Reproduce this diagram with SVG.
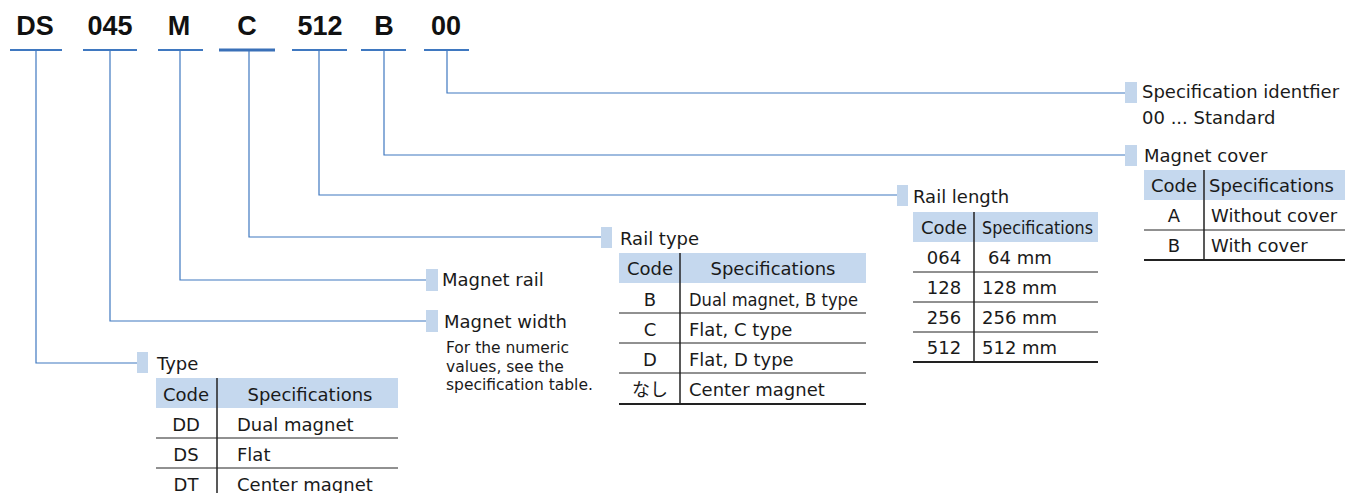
<svg xmlns="http://www.w3.org/2000/svg" width="1362" height="493" viewBox="0 0 1362 493">
<style>
.code{font-family:"Liberation Sans",Arial,sans-serif;font-weight:bold;font-size:27px;fill:#111;text-anchor:middle}
.t{font-family:"DejaVu Sans","Noto Sans CJK JP",sans-serif;font-size:18px;fill:#1a1a1a}
.s{font-family:"DejaVu Sans",sans-serif;font-size:15.5px;fill:#1a1a1a}
.m{text-anchor:middle}
.ul{stroke:#3f78c0;stroke-width:2.2;fill:none}
.con{stroke:#3f78c0;stroke-width:1.2;fill:none}
.mk{fill:#c3d6ec}
.hd{fill:#c5d8ee}
.rl{stroke:#222;stroke-width:1;fill:none}
.bl{stroke:#222;stroke-width:2;fill:none}
.dv{stroke:#222;stroke-width:1.5;fill:none}
</style>
<g id="code">
<text class="code" x="35" y="35">DS</text>
<text class="code" x="110" y="35">045</text>
<text class="code" x="179" y="35">M</text>
<text class="code" x="247" y="35">C</text>
<text class="code" x="320" y="35">512</text>
<text class="code" x="384" y="35">B</text>
<text class="code" x="446" y="35">00</text>
<path class="ul" d="M10 50H62M83 50H137M158 50H203M361 50H406M424 50H469M292 50H347"/>
<path class="ul" d="M219 50H275" style="stroke-width:2.8;stroke:#3a70b8"/>
</g>
<g id="connectors">
<path class="con" d="M36 51V363H137"/>
<path class="con" d="M110 51V321H426"/>
<path class="con" d="M180 51V280H426"/>
<path class="con" d="M249 51V237H601"/>
<path class="con" d="M319 51V195H897"/>
<path class="con" d="M384 51V155H1125"/>
<path class="con" d="M447 51V93H1125"/>
</g>
<g id="spec-identifier">
<rect class="mk" x="1125" y="82" width="12" height="21"/>
<text class="t" x="1142" y="98">Specification identfier</text>
<text class="t" x="1142" y="124">00 ... Standard</text>
</g>
<g id="magnet-cover">
<rect class="mk" x="1125" y="145" width="12" height="21"/>
<text class="t" x="1144" y="162">Magnet cover</text>
<rect class="hd" x="1144" y="170" width="201" height="30"/>
<path class="rl" d="M1144 230H1345"/>
<path class="bl" d="M1144 260H1345"/>
<path class="dv" d="M1204 170V260"/>
<text class="t m" x="1174" y="192">Code</text>
<text class="t" x="1209" y="192">Specifications</text>
<text class="t m" x="1174" y="222">A</text>
<text class="t" x="1211" y="222">Without cover</text>
<text class="t m" x="1174" y="252">B</text>
<text class="t" x="1211" y="252">With cover</text>
</g>
<g id="rail-length">
<rect class="mk" x="897" y="185" width="11" height="21"/>
<text class="t" x="913" y="203">Rail length</text>
<rect class="hd" x="913" y="212" width="185" height="30"/>
<path class="rl" d="M913 272H1098M913 302H1098M913 332H1098"/>
<path class="bl" d="M913 362H1098"/>
<path class="dv" d="M974 212V362"/>
<text class="t m" x="944" y="234">Code</text>
<text class="t" x="982" y="234" textLength="111" lengthAdjust="spacingAndGlyphs">Specifications</text>
<text class="t m" x="944" y="264">064</text>
<text class="t" x="988" y="264">64 mm</text>
<text class="t m" x="944" y="294">128</text>
<text class="t" x="982" y="294">128 mm</text>
<text class="t m" x="944" y="324">256</text>
<text class="t" x="982" y="324">256 mm</text>
<text class="t m" x="944" y="354">512</text>
<text class="t" x="982" y="354">512 mm</text>
</g>
<g id="rail-type">
<rect class="mk" x="601" y="227" width="11" height="21"/>
<text class="t" x="620" y="245">Rail type</text>
<rect class="hd" x="619" y="253" width="247" height="30"/>
<path class="rl" d="M619 313H866M619 343H866M619 373H866"/>
<path class="bl" d="M619 404H866"/>
<path class="dv" d="M680 253V404"/>
<text class="t m" x="650" y="275">Code</text>
<text class="t m" x="773" y="275">Specifications</text>
<text class="t m" x="650" y="306">B</text>
<text class="t" x="689" y="306" textLength="169" lengthAdjust="spacingAndGlyphs">Dual magnet, B type</text>
<text class="t m" x="650" y="336">C</text>
<text class="t" x="689" y="336">Flat, C type</text>
<text class="t m" x="650" y="366">D</text>
<text class="t" x="689" y="366">Flat, D type</text>
<text class="t m" x="650" y="396">なし</text>
<text class="t" x="689" y="396">Center magnet</text>
</g>
<g id="magnet-rail">
<rect class="mk" x="426" y="269" width="12" height="22"/>
<text class="t" x="442" y="286">Magnet rail</text>
</g>
<g id="magnet-width">
<rect class="mk" x="426" y="310" width="12" height="22"/>
<text class="t" x="444" y="328">Magnet width</text>
<text class="s" x="446" y="353">For the numeric</text>
<text class="s" x="446" y="372">values, see the</text>
<text class="s" x="446" y="390">specification table.</text>
</g>
<g id="type">
<rect class="mk" x="137" y="352" width="11" height="21"/>
<text class="t" x="157" y="370">Type</text>
<rect class="hd" x="156" y="378" width="242" height="30"/>
<path class="rl" d="M156 438H398M156 468H398"/>
<path class="dv" d="M217 378V493"/>
<text class="t m" x="186" y="401">Code</text>
<text class="t m" x="310" y="401">Specifications</text>
<text class="t m" x="186" y="431">DD</text>
<text class="t" x="237" y="431">Dual magnet</text>
<text class="t m" x="186" y="461">DS</text>
<text class="t" x="237" y="461">Flat</text>
<text class="t m" x="186" y="491">DT</text>
<text class="t" x="237" y="491">Center magnet</text>
</g>
</svg>
